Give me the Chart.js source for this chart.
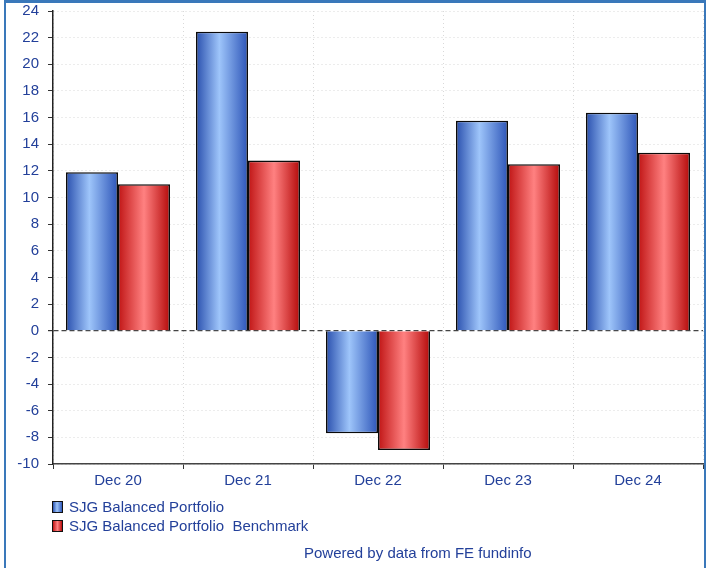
<!DOCTYPE html>
<html>
<head>
<meta charset="utf-8">
<script src="https://cdn.jsdelivr.net/npm/chart.js@4"></script>
<style>
  body { margin: 0; background: #fff; font-family: "Liberation Sans", Arial, sans-serif; }
  #wrap { position: relative; width: 715px; height: 568px; overflow: hidden; }
  #frame { position: absolute; left: 4px; top: 0; width: 698px; height: 600px;
           border: 2px solid #3a78ba; border-top-width: 3px; border-bottom: none; }
  canvas { position: absolute; left: 0; top: 0; }
  .leg { position: absolute; left: 52px; font-size: 15px; color: #23409a; white-space: pre; }
  .leg i { display: inline-block; width: 9px; height: 10px; border: 1.5px solid #111;
           vertical-align: -1px; margin-right: 6px; }
  #foot { position: absolute; left: 304px; top: 544px; font-size: 15px; color: #23409a; }
</style>
</head>
<body>
<div id="wrap">
  <div id="frame"></div>
  <canvas id="perfChart" width="715" height="568"></canvas>
  <div class="leg" style="top:498px"><i style="background:linear-gradient(90deg,#2c54b2,#9ec5fa 45%,#2f58ba)"></i>SJG Balanced Portfolio</div>
  <div class="leg" style="top:517px"><i style="background:linear-gradient(90deg,#c21818,#ff8181 50%,#b80c0c)"></i>SJG Balanced Portfolio  Benchmark</div>
  <div id="foot">Powered by data from FE fundinfo</div>
</div>
<script>
  // data
  const categories = ['Dec 20', 'Dec 21', 'Dec 22', 'Dec 23', 'Dec 24'];
  const portfolio = [11.9, 22.45, -7.7, 15.77, 16.37];
  const benchmark = [11.0, 12.77, -8.95, 12.5, 13.37];
  const seriesNames = ['SJG Balanced Portfolio', 'SJG Balanced Portfolio  Benchmark'];

  const blueStops = ['#2a50ae', '#9ec5fa', '#2d55b8'];
  const redStops = ['#c01515', '#ff8181', '#b50a0a'];
  const textBlue = '#23409a';

  // horizontal gradient across each bar, built from the x scale
  function barFill(stops, mid) {
    return function (c) {
      const chart = c.chart;
      const x = chart.scales && chart.scales.x;
      if (!x || c.dataIndex === undefined || !chart.chartArea) return stops[1];
      const cw = x.width / categories.length;
      const bw = cw * 0.8 / 2;
      const left = x.getPixelForValue(c.dataIndex) - cw * 0.4 + c.datasetIndex * bw;
      const g = chart.ctx.createLinearGradient(left, 0, left + bw, 0);
      g.addColorStop(0, stops[0]);
      g.addColorStop(mid, stops[1]);
      g.addColorStop(1, stops[2]);
      return g;
    };
  }

  const ctx = document.getElementById('perfChart').getContext('2d');
  const perfChart = new Chart(ctx, {
    type: 'bar',
    data: {
      labels: categories,
      datasets: [{
        label: seriesNames[0],
        data: portfolio,
        backgroundColor: barFill(blueStops, 0.45),
        borderColor: '#0a0a0a',
        borderWidth: 1.6
      }, {
        label: seriesNames[1],
        data: benchmark,
        backgroundColor: barFill(redStops, 0.5),
        borderColor: '#0a0a0a',
        borderWidth: 1.6
      }]
    },
    options: {
      responsive: false,
      animation: false,
      layout: { padding: { left: 0, top: 11, right: 12, bottom: 74 } },
      datasets: { bar: { categoryPercentage: 0.8, barPercentage: 1.0 } },
      plugins: { legend: { display: false }, tooltip: { enabled: false } },
      scales: {
        x: {
          afterFit: (s) => { s.height = 30; s.paddingLeft = 0; s.paddingRight = 0; },
          grid: { color: '#d9d9d9', tickColor: '#333', tickLength: 5, tickBorderDash: [] },
          border: { color: '#444', width: 1.5, dash: [1, 3] },
          ticks: { color: textBlue, padding: 3, font: { family: 'Liberation Sans', size: 15 } }
        },
        y: {
          min: -10,
          max: 24,
          afterFit: (s) => { s.width = 53; s.paddingTop = 0; s.paddingBottom = 0; },
          grid: {
            color: (c) => (c.tick && c.tick.value === 0) ? '#444' : '#d9d9d9',
            lineWidth: (c) => (c.tick && c.tick.value === 0) ? 1.2 : 1,
            tickColor: '#333', tickLength: 5, tickBorderDash: []
          },
          border: {
            color: '#222', width: 1.5,
            dash: (c) => (c.tick && c.tick.value === 0) ? [5, 3] : [1, 3]
          },
          ticks: { stepSize: 2, color: textBlue, padding: 9, font: { family: 'Liberation Sans', size: 15 } }
        }
      }
    }
  });
</script>
</body>
</html>
